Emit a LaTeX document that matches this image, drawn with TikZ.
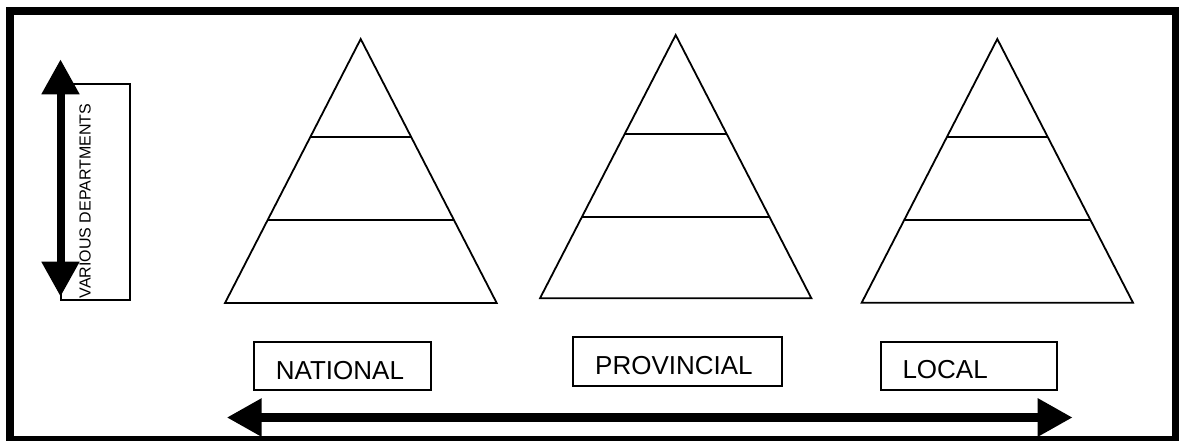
\documentclass[tikz,border=0pt]{standalone}
\usepackage{fontspec}
\setmainfont{Liberation Sans}
\usetikzlibrary{arrows.meta,calc}
\begin{document}
\begin{tikzpicture}[x=1pt,y=-1pt,
  thinline/.style={line width=1.8pt, line join=miter},
  labelbox/.style={draw, line width=1.8pt, minimum width=#1, minimum height=48pt, inner sep=0pt},
  labeltext/.style={anchor=base west, inner sep=0pt, font=\fontsize{26}{28}\selectfont},
  bigarrow/.style={line width=#1, {Triangle[length=35pt,width=36pt]}-{Triangle[length=35pt,width=36pt]}},
]
\useasboundingbox (0,0) rectangle (1179,441);
\draw[line width=8pt] (10,11) rectangle (1175.5,440);

% pyramids
\foreach \n/\ax/\ay/\bl/\br/\by/\fa/\fb in {
  p1/360.7/39/225/496.7/303/0.3723/0.6856,
  p2/675.7/35/540/811.4/298.3/0.376/0.690,
  p3/997.3/39/861.7/1133/302.7/0.3728/0.6875}{
  \coordinate (\n a) at (\ax,\ay);
  \coordinate (\n l) at (\bl,\by);
  \coordinate (\n r) at (\br,\by);
  \draw[thinline] (\n l) -- (\n a) -- (\n r) -- cycle;
  \draw[thinline] ($(\n a)!\fa!(\n l)$) -- ($(\n a)!\fa!(\n r)$);
  \draw[thinline] ($(\n a)!\fb!(\n l)$) -- ($(\n a)!\fb!(\n r)$);
}

% label boxes
\node[labelbox=176.7pt] (nat) at (342.35,366) {};
\node[labeltext] (natT) at (275.7,379.3) {NATIONAL};
\node[labelbox=209.3pt, minimum height=48.4pt] (prov) at (677.35,361.5) {};
\node[labeltext] (provT) at (595,374) {PROVINCIAL};
\node[labelbox=175.7pt] (loc) at (968.85,366) {};
\node[labeltext] (locT) at (902.3,378) {LOCAL};

% horizontal arrow
\coordinate (hL) at (226.7,417.5);
\coordinate (hR) at (1072.7,417.5);
\draw[bigarrow=9pt] (hL) -- (hR);

% vertical departments box and arrow
\node[draw, line width=1.8pt, minimum width=69.3pt, minimum height=216.3pt, inner sep=0pt] (dep) at (95.35,191.85) {};
\coordinate (vT) at (60.5,59.3);
\coordinate (vB) at (60.5,296.7);
\draw[bigarrow=8pt] (vT) -- (vB);
\node[rotate=90, anchor=base west, inner sep=0pt, font=\fontsize{16}{18}\selectfont] (depT) at (90.5,298.5) {VARIOUS DEPARTMENTS};
\end{tikzpicture}
\end{document}
